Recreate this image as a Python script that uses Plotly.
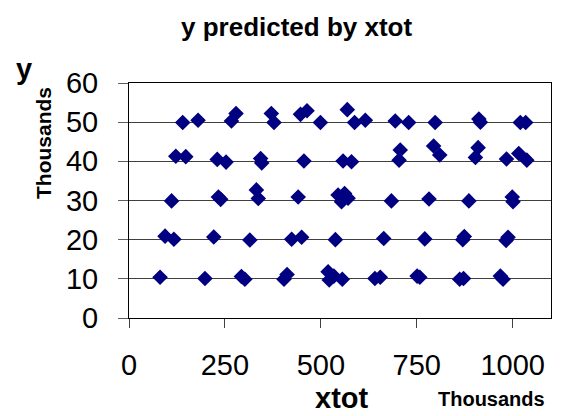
import plotly.graph_objects as go

# xtot and y, both in thousands
xtot = [
    140, 180, 267, 279, 371, 378, 447, 464, 499, 569, 588, 616, 694, 729, 798, 912, 916, 1020, 1034,
    122, 148, 230, 253, 343, 346, 456, 558, 580, 704, 707, 794, 810, 903, 910, 984, 1016, 1037,
    111, 233, 239, 332, 337, 441, 545, 554, 562, 571, 684, 782, 886, 999, 1001,
    94, 117, 221, 315, 424, 450, 538, 664, 771, 870, 874, 983, 988,
    81, 198, 293, 302, 404, 412, 519, 522, 534, 556, 641, 655, 751, 758, 862, 872, 968, 975,
]
y = [
    49.9, 50.5, 50.3, 52.2, 52.2, 49.9, 52.0, 52.9, 49.9, 53.2, 49.9, 50.5, 50.3, 49.9, 49.9, 50.8, 50.0, 49.9, 49.9,
    41.3, 41.2, 40.5, 39.8, 40.7, 39.6, 40.1, 40.1, 39.9, 40.3, 42.9, 43.9, 41.6, 41.0, 43.5, 40.6, 42.0, 40.3,
    29.9, 30.9, 30.3, 32.7, 30.5, 30.9, 31.4, 29.7, 31.8, 30.6, 29.9, 30.4, 29.9, 30.9, 29.7,
    20.9, 20.1, 20.7, 19.9, 20.1, 20.6, 20.0, 20.3, 20.2, 20.0, 20.8, 19.8, 20.6,
    10.4, 10.1, 10.6, 9.9, 9.9, 11.1, 11.8, 9.7, 10.7, 9.9, 10.1, 10.4, 10.7, 10.4, 9.9, 10.1, 10.7, 9.9,
]

x_ticks = [0, 250, 500, 750, 1000]
y_ticks = [0, 10, 20, 30, 40, 50, 60]

FONT = "Liberation Sans, Arial, sans-serif"
W, H = 561, 416
L, R, T, B = 129, 10, 83, 98

fig = go.Figure(
    go.Scatter(
        x=xtot, y=y, mode="markers",
        marker=dict(symbol="diamond", size=12, color="#000080", line=dict(width=0)),
        hoverinfo="x+y",
    )
)


def px_to_paper(px, py):
    return (px - L) / (W - L - R), (H - B - py) / (H - T - B)


def label(text, px, py, size, angle=0):
    xp, yp = px_to_paper(px, py)
    fig.add_annotation(
        text=text, x=xp, y=yp, xref="paper", yref="paper", showarrow=False,
        xanchor="center", yanchor="middle", textangle=angle,
        font=dict(family=FONT, size=size, color="black"),
    )


label("<b>y predicted by xtot</b>", 296, 27, 26)
label("<b>y</b>", 24, 69, 29)
label("<b>Thousands</b>", 43, 143, 21, angle=-90)
label("<b>xtot</b>", 342, 398, 29)
label("<b>Thousands</b>", 491, 399, 20)

fig.update_layout(
    width=W, height=H,
    margin=dict(l=L, r=R, t=T, b=B, pad=0),
    paper_bgcolor="white", plot_bgcolor="white",
    showlegend=False,
    font=dict(family=FONT, color="black"),
    xaxis=dict(
        range=[0, 1100], tickvals=x_ticks, ticktext=[str(v) for v in x_ticks],
        showgrid=False, zeroline=False,
        showline=True, linecolor="black", linewidth=1, mirror=True,
        ticks="outside", ticklen=9, tickcolor="#404040",
        tickfont=dict(family=FONT, size=29, color="black"),
        ticklabelstandoff=12,
    ),
    yaxis=dict(
        range=[0, 60], tickvals=y_ticks, ticktext=[str(v) for v in y_ticks],
        showgrid=True, gridcolor="#404040", gridwidth=1, zeroline=False,
        showline=True, linecolor="black", linewidth=1, mirror=True,
        ticks="outside", ticklen=10, tickcolor="#606060",
        tickfont=dict(family=FONT, size=29, color="black"),
        ticklabelstandoff=14,
    ),
)

fig.write_html("out.html")
